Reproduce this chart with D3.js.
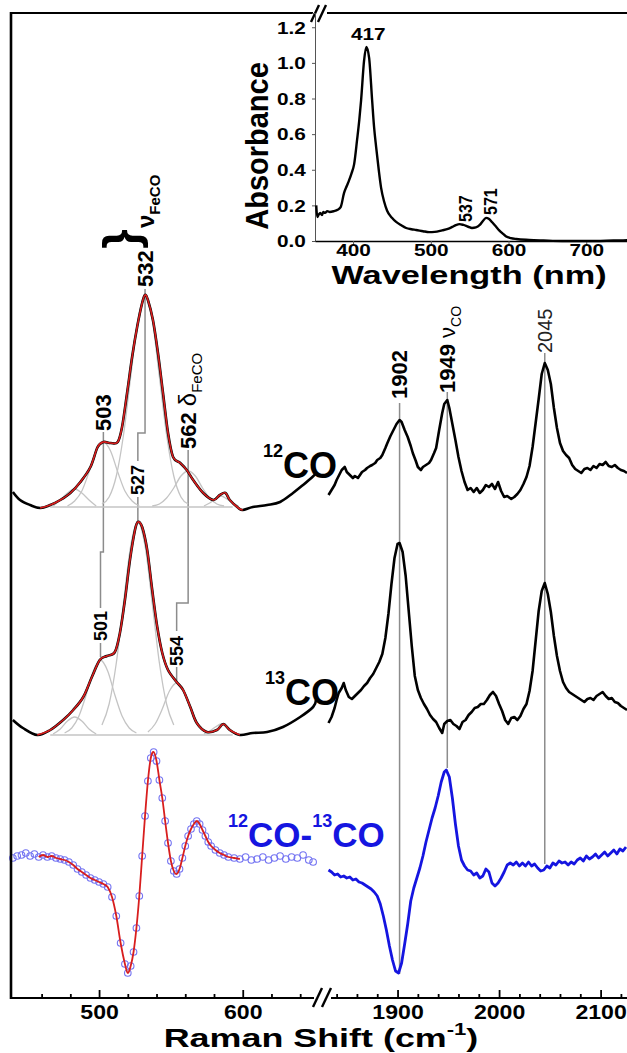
<!DOCTYPE html>
<html>
<head>
<meta charset="utf-8">
<script src="https://cdn.jsdelivr.net/npm/d3@7"></script>
<style>
  body { margin: 0; background: #fff; }
  svg text { font-family: "Liberation Sans", Arial, sans-serif; }
</style>
</head>
<body>
<div id="chart"></div>
<script>

// ---- data (wavenumber cm-1, intensity a.u. incl. stacking offset) ----
var co12Low = [[440,504],[445,496],[452,491],[459,488],[466,491],[473,496],[480,503],[487,514],[494,529],[499,549],[503,554],[508,553],[513,554],[516,569],[519.5,603],[523,639],[526.5,669],[530,693],[532,701],[534,696],[537.5,676],[541,643],[544.5,603],[548,563],[551.5,539],[556.5,533],[561,526],[565.5,516],[572.5,503],[579.5,496],[584,501],[588,503],[591,496],[597,488],[600,486],[607,489],[617,491],[626,494],[635,503],[642,511],[648.5,519],[651,523]];
var co13Low = [[440,276],[447,268],[457,261],[466,266],[475,276],[482,286],[489,299],[495,319],[500.5,336],[505.5,340],[511,344],[514.5,363],[518,396],[521.5,436],[525,466],[527,474],[530,469],[533.5,446],[537,406],[540.5,369],[544,343],[548,326],[554,314],[558.5,306],[563.5,289],[568,273],[575,264],[582,266],[586.5,272],[591,266],[598,261],[607,263],[617,264],[628,269],[640,279],[649,289],[651,296]];
var diffLow = [[440,138],[443,140],[446,141],[449,143],[452,140],[455,142],[458,139],[461,141],[464,139],[467,140],[470,138],[473,137],[476,136],[479,134],[482,131],[485,127],[488,124],[491,121],[494,118],[497,116],[500,114],[503,112],[506,109],[509,99],[512,80],[515,53],[518,32],[520,23],[522,30],[524,44],[526,68],[528,100],[530,140],[532,180],[534,215],[536,238],[538,244],[540,235],[542,216],[544,198],[546,175],[548,153],[550,135],[552,125],[554,122],[556,127],[558,138],[560,150],[562,160],[564,167],[566,172],[568,175],[570,172],[572,166],[574,160],[576,154],[578,150],[581,146],[584,143],[587,141],[590,139],[594,138],[598,137],[602,139],[606,136],[610,137],[614,139],[618,136],[622,138],[626,140],[630,137],[634,139],[638,138],[642,141],[646,136],[649,134]];

// fitted component bands (12CO and 13CO)
var comp12 = [
  [[468,490],[473,496],[478,503],[483,507],[488,503],[493,496],[498,490]],
  [[478,490],[483,495],[488,505],[493,524],[498,545],[503,554],[508,545],[513,524],[518,505],[523,495],[528,490]],
  [[502,492],[507,499],[512,520],[517,561],[522,619],[527,676],[532,700],[537,676],[542,619],[547,561],[552,520],[557,499],[562,492]],
  [[537,490],[542,492],[547,498],[552,508],[557,520],[562,525],[567,520],[572,508],[577,498],[582,492],[587,490]],
  [[573,490],[577,493],[581,497],[585,500],[589,497],[593,493],[597,490]]
];
var comp13 = [
  [[468,262],[473,267],[478,275],[483,279],[488,275],[493,267],[498,262]],
  [[476,263],[481,268],[486,280],[491,301],[496,325],[501,336],[506,325],[511,301],[516,280],[521,268],[526,263]],
  [[502,271],[507,292],[512,333],[517,393],[522,450],[527,474],[532,450],[537,393],[542,333],[547,292],[552,271]],
  [[534,264],[539,272],[544,287],[549,305],[554,313],[559,305],[564,287],[569,272],[574,264]],
  [[573,262],[577,265],[581,269],[585,272],[589,269],[593,265],[597,262]]
];
var base12 = [[466,489],[593,489]];
var base13 = [[466,261],[593,261]];

var co12High = [[1832,501],[1835,506],[1838,511],[1840,516],[1843,522],[1845,526],[1848,529],[1850,524],[1853,521],[1856,518],[1858,520],[1861,518],[1865,524],[1868,526],[1870,528],[1873,530],[1875,531],[1878,533],[1880,536],[1883,538],[1885,541],[1888,548],[1890,553],[1893,560],[1896,566],[1899,572],[1902,576],[1904,574],[1907,566],[1910,559],[1913,550],[1915,543],[1918,535],[1920,529],[1923,526],[1925,529],[1928,531],[1931,533],[1933,536],[1936,543],[1938,548],[1941,566],[1944,583],[1946,592],[1949,596],[1951,588],[1954,572],[1957,556],[1960,539],[1963,525],[1966,514],[1969,506],[1972,508],[1975,504],[1978,508],[1981,503],[1984,506],[1987,511],[1990,509],[1993,512],[1996,507],[1999,514],[2002,505],[2005,499],[2008,500],[2012,497],[2015,499],[2018,502],[2021,506],[2024,512],[2027,519],[2030,530],[2033,549],[2036,573],[2039,597],[2042,622],[2045,633],[2048,626],[2051,612],[2054,588],[2057,568],[2060,553],[2063,545],[2066,541],[2069,538],[2072,531],[2075,527],[2078,525],[2081,523],[2084,527],[2087,528],[2090,526],[2093,530],[2096,528],[2099,532],[2102,531],[2105,534],[2108,530],[2111,529],[2114,531],[2117,528],[2120,526],[2123,525],[2126,523]];
var co13High = [[1832,273],[1835,279],[1838,288],[1840,296],[1842,303],[1845,308],[1847,313],[1849,306],[1852,299],[1855,297],[1858,300],[1861,303],[1864,306],[1867,310],[1870,313],[1873,318],[1876,322],[1879,328],[1882,334],[1885,342],[1888,358],[1891,382],[1894,412],[1897,438],[1900,452],[1902,453],[1905,444],[1908,420],[1911,385],[1914,350],[1917,320],[1920,306],[1923,298],[1926,292],[1929,287],[1932,281],[1935,277],[1938,274],[1941,268],[1944,263],[1946,272],[1949,275],[1952,276],[1955,272],[1958,270],[1961,267],[1964,274],[1967,276],[1970,281],[1973,284],[1976,288],[1979,289],[1982,292],[1985,292],[1988,296],[1991,301],[1994,304],[1997,300],[2000,292],[2003,285],[2006,276],[2009,272],[2012,278],[2015,279],[2018,276],[2021,280],[2024,287],[2027,292],[2030,305],[2033,325],[2036,355],[2039,385],[2042,405],[2045,413],[2048,402],[2051,384],[2054,360],[2057,340],[2060,325],[2063,314],[2066,308],[2069,304],[2072,302],[2075,300],[2078,298],[2081,296],[2084,294],[2087,297],[2090,298],[2093,296],[2096,300],[2099,302],[2102,304],[2105,300],[2108,297],[2111,298],[2114,294],[2117,293],[2120,290],[2123,288],[2126,286]];
var diffHigh = [[1832,126],[1835,124],[1838,121],[1841,122],[1844,119],[1847,120],[1850,118],[1853,119],[1856,116],[1859,117],[1862,114],[1865,113],[1868,111],[1871,109],[1874,107],[1877,104],[1880,100],[1883,92],[1886,80],[1889,66],[1892,50],[1895,36],[1898,25],[1901,23],[1904,33],[1907,52],[1910,72],[1913,95],[1916,108],[1919,118],[1922,128],[1925,140],[1928,154],[1931,166],[1934,178],[1937,188],[1940,200],[1943,214],[1946,224],[1948,226],[1951,219],[1954,198],[1957,172],[1960,150],[1963,136],[1966,130],[1969,126],[1972,125],[1975,121],[1978,123],[1981,118],[1984,120],[1987,127],[1990,124],[1993,113],[1996,110],[1999,113],[2002,118],[2005,124],[2008,131],[2011,133],[2014,131],[2017,134],[2020,130],[2023,133],[2026,130],[2029,134],[2032,130],[2035,132],[2038,128],[2041,125],[2044,126],[2047,130],[2050,128],[2053,133],[2056,131],[2059,135],[2062,133],[2065,134],[2068,131],[2071,134],[2074,132],[2077,136],[2080,138],[2083,135],[2086,140],[2089,137],[2092,139],[2095,142],[2098,138],[2101,141],[2104,144],[2107,140],[2110,143],[2113,146],[2116,142],[2119,147],[2122,145],[2125,149]];

// UV-vis inset (nm, absorbance)
var uvVis = [[352.6,0.20],[353.9,0.135],[356,0.15],[357.7,0.158],[360,0.145],[361.6,0.163],[364,0.158],[366.8,0.168],[370,0.163],[375.5,0.168],[380,0.175],[384,0.19],[388.4,0.27],[392,0.31],[394.8,0.34],[398,0.38],[401.3,0.43],[405.2,0.57],[408,0.68],[410.3,0.79],[414.2,1.015],[417,1.09],[420.6,1.03],[424.5,0.79],[427,0.64],[429.6,0.53],[433,0.40],[436,0.30],[440,0.22],[443.8,0.17],[450,0.13],[455.4,0.107],[462,0.088],[468.2,0.073],[475,0.066],[481.1,0.062],[490,0.055],[497.8,0.05],[505,0.051],[514.6,0.06],[522,0.068],[527.5,0.079],[532,0.089],[537,0.095],[542,0.09],[548,0.08],[553,0.073],[558,0.076],[563,0.09],[567,0.112],[571,0.13],[575,0.124],[579,0.105],[584,0.08],[588,0.06],[593,0.04],[597,0.025],[603,0.016],[610,0.011],[626.6,0.006],[645,0.003],[669,0.0],[690,0.0],[712.9,0.0],[735,0.003],[755,0.004]];

var lowMajor = [500, 600];
var lowMinor = [460, 480, 520, 540, 560, 580, 620, 640];
var highMajor = [1900, 2000, 2100];
var highMinor = [1840, 1860, 1880, 1920, 1940, 1960, 1980, 2020, 2040, 2060, 2080, 2120];
var uvTicksX = [400, 500, 600, 700];
var uvTicksY = [0, 0.2, 0.4, 0.6, 0.8, 1.0, 1.2];
var uvPeaks = [417, 537, 571];
var peaks12 = [503, 532, 562];
var peaks13 = [501, 527, 554];
var coPeaks = [1902, 1949, 2045];

// ---- setup ----
var W = 627, H = 1053;
var svg = d3.select("#chart").append("svg")
    .attr("width", W).attr("height", H);

var xLow = d3.scaleLinear().domain([438.7, 651]).range([11, 316]);
var xHigh = d3.scaleLinear().domain([1831.5, 2126]).range([328, 627]);
var y = d3.scaleLinear().domain([0, 983]).range([996, 13]);
var xIn = d3.scaleLinear().domain([351, 755]).range([315, 629]);
var yIn = d3.scaleLinear().domain([0, 1.28]).range([241, 13]);

var RED = "#d81e1e", BLUE = "#1515e0", GRAY = "#8c8c8c", LGRAY = "#c4c4c4";

function txt(g, x, yy, parts, o) {
    o = o || {};
    var t = g.append("text")
        .attr("transform", "translate(" + x + "," + yy + ") scale(" + (o.sx || 1) + ",1)" + (o.rot ? " rotate(-90)" : ""))
        .attr("text-anchor", o.anchor || "start")
        .style("fill", o.fill || "#000");
    var shift = 0;
    parts.forEach(function (p) {
        var s = t.append("tspan").text(p[0])
            .attr("font-size", p[1])
            .attr("font-weight", p[2] || "bold");
        var off = p[3] || 0;
        if (off - shift) s.attr("dy", off - shift);
        shift = off;
    });
    return t;
}
// rotated label, centred on cx, text starting at yBottom going up
function rlabel(g, cx, yBottom, parts, sx, fill) {
    sx = sx || 1;
    return txt(g, cx + 0.36 * parts[0][1] * sx, yBottom, parts, {rot: true, sx: sx, fill: fill});
}

var lineLow = d3.line().x(function (d) { return xLow(d[0]); }).y(function (d) { return y(d[1]); });
var lineHigh = d3.line().x(function (d) { return xHigh(d[0]); }).y(function (d) { return y(d[1]); });

// ---- connectors for fitted peaks ----
var conn = svg.append("g").attr("fill", "none").attr("stroke", GRAY).attr("stroke-width", 1.5);
// [start of 12CO segment, step y, 13CO label top, 13CO label bottom, 13CO peak]
var connY = [[432, 552, 608, 643, 657], [289, 433, 461, 497, 522], [450, 603, 631, 667, 683]];
peaks12.forEach(function (p, i) {
    var a = xLow(p), b = xLow(peaks13[i]), c = connY[i];
    conn.append("path").attr("d", "M" + a + "," + c[0] + "V" + c[1] + "H" + b + "V" + c[2]);
    conn.append("path").attr("d", "M" + b + "," + c[3] + "V" + c[4]);
});
// CO stretch guide lines
var coTop = [403, 392, 353], coBot = [974, 768, 864];
coPeaks.forEach(function (p, i) {
    conn.append("line").attr("x1", xHigh(p)).attr("x2", xHigh(p)).attr("y1", coTop[i]).attr("y2", coBot[i]);
});

// ---- components ----
var compLine = d3.line().x(function (d) { return xLow(d[0]); }).y(function (d) { return y(d[1]); }).curve(d3.curveCardinal);
var gc = svg.append("g").attr("fill", "none").attr("stroke", LGRAY).attr("stroke-width", 1.3);
comp12.concat(comp13).forEach(function (c) { gc.append("path").attr("d", compLine(c)); });
gc.append("path").attr("d", lineLow(base12));
gc.append("path").attr("d", lineLow(base13));

// ---- traces ----
function inFit(d) { return d[0] >= 456 && d[0] <= 600; }
var smooth = d3.line().x(function (d) { return xLow(d[0]); }).y(function (d) { return y(d[1]); }).curve(d3.curveCardinal);
[co12Low, co13Low].forEach(function (s) {
    svg.append("path").attr("d", smooth(s)).attr("fill", "none").attr("stroke", "#000").attr("stroke-width", 2.6);
    svg.append("path").attr("d", smooth(s.filter(inFit))).attr("fill", "none").attr("stroke", RED).attr("stroke-width", 1.6);
});
[co12High, co13High].forEach(function (s) {
    svg.append("path").attr("d", lineHigh(s)).attr("fill", "none").attr("stroke", "#000").attr("stroke-width", 2.6).attr("stroke-linejoin", "round");
});
svg.append("path").attr("d", lineHigh(diffHigh)).attr("fill", "none").attr("stroke", BLUE).attr("stroke-width", 2.8).attr("stroke-linejoin", "round");

svg.append("g").selectAll("circle").data(diffLow).enter().append("circle")
    .attr("cx", function (d) { return xLow(d[0]); })
    .attr("cy", function (d) { return y(d[1]); })
    .attr("r", 3.3).attr("fill", "none").attr("stroke", "#7474f2").attr("stroke-width", 1.1);
svg.append("path").attr("d", smooth(diffLow.filter(function (d) { return d[0] >= 457 && d[0] <= 598; })))
    .attr("fill", "none").attr("stroke", RED).attr("stroke-width", 1.8);

// ---- frame and axes ----
var frame = svg.append("g").attr("stroke", "#000").attr("fill", "none");
frame.append("line").attr("x1", 11).attr("x2", 11).attr("y1", 12).attr("y2", 999).attr("stroke-width", 2.6);
frame.append("line").attr("x1", 10).attr("x2", 313).attr("y1", 13).attr("y2", 13).attr("stroke-width", 2.2);
frame.append("line").attr("x1", 327).attr("x2", 627).attr("y1", 13).attr("y2", 13).attr("stroke-width", 2.2);
frame.append("line").attr("x1", 10).attr("x2", 314).attr("y1", 998).attr("y2", 998).attr("stroke-width", 2.2);
frame.append("line").attr("x1", 331).attr("x2", 627).attr("y1", 998).attr("y2", 998).attr("stroke-width", 2.2);
[[311, 5, 319, 22], [318, 5, 326, 22]].forEach(function (s) {
    frame.append("line").attr("x1", s[0]).attr("y1", s[3]).attr("x2", s[2]).attr("y2", s[1]).attr("stroke-width", 2.4);
});
[[313, 1007, 322, 988], [322, 1007, 331, 988]].forEach(function (s) {
    frame.append("line").attr("x1", s[0]).attr("y1", s[1]).attr("x2", s[2]).attr("y2", s[3]).attr("stroke-width", 2.4);
});

function styleAxis(g) {
    g.select(".domain").remove();
    g.selectAll("line").attr("stroke", "#000").attr("stroke-width", 1.8);
}
var ax = svg.append("g").attr("transform", "translate(0,998)");
ax.append("g").call(d3.axisBottom(xLow).tickValues(lowMinor).tickSize(-4).tickFormat("")).call(styleAxis);
ax.append("g").call(d3.axisBottom(xHigh).tickValues(highMinor).tickSize(-4).tickFormat("")).call(styleAxis);
[[xLow, lowMajor], [xHigh, highMajor]].forEach(function (a) {
    var g = ax.append("g").call(d3.axisBottom(a[0]).tickValues(a[1]).tickSize(-8).tickPadding(6).tickFormat(d3.format("d"))).call(styleAxis);
    g.selectAll("text").attr("font-size", 21).attr("font-weight", "bold").attr("fill", "#000")
        .attr("font-family", "Liberation Sans, Arial, sans-serif").attr("transform", "scale(1.1,1)");
});
txt(svg, 321, 1047, [["Raman Shift (cm", 26], ["-1", 16, "bold", -12], [")", 26, "bold", 0]], {anchor: "middle", sx: 1.38});

// ---- inset UV-vis ----
var gi = svg.append("g");
var axL = gi.append("g").attr("transform", "translate(315,0)")
    .call(d3.axisLeft(yIn).tickValues(uvTicksY).tickSize(3).tickPadding(4).tickFormat(d3.format(".1f")));
axL.select(".domain").attr("stroke", "#555").attr("stroke-width", 1);
axL.selectAll("line").attr("stroke", "#555");
axL.selectAll("text").attr("font-size", 16).attr("font-weight", "bold").attr("fill", "#000")
    .attr("font-family", "Liberation Sans, Arial, sans-serif").attr("transform", "scale(1.3,1)").attr("dy", "0.36em");
var axB = gi.append("g").attr("transform", "translate(0,241)")
    .call(d3.axisBottom(xIn).tickValues(uvTicksX).tickSize(3).tickPadding(1).tickSizeOuter(0).tickFormat(d3.format("d")));
axB.select(".domain").attr("stroke", "#000").attr("stroke-width", 1.6);
axB.selectAll("line").attr("stroke", "#555");
axB.selectAll("text").attr("font-size", 16).attr("font-weight", "bold").attr("fill", "#000")
    .attr("font-family", "Liberation Sans, Arial, sans-serif").attr("transform", "scale(1.3,1)");
gi.append("path").datum(uvVis)
    .attr("d", d3.line().x(function (d) { return xIn(d[0]); }).y(function (d) { return yIn(d[1]); }).curve(d3.curveMonotoneX))
    .attr("fill", "none").attr("stroke", "#000").attr("stroke-width", 2.4);
txt(gi, 268, 146, [["Absorbance", 29]], {rot: true, anchor: "middle", sx: 1.1});
txt(gi, 469, 284, [["Wavelength (nm)", 26]], {anchor: "middle", sx: 1.32});
txt(gi, xIn(uvPeaks[0]) + 2, 40, [[String(uvPeaks[0]), 16]], {anchor: "middle", sx: 1.3});
rlabel(gi, xIn(uvPeaks[1]) + 6, 222, [[String(uvPeaks[1]), 16]], 1.15);
rlabel(gi, xIn(uvPeaks[2]) + 4, 215, [[String(uvPeaks[2]), 16]], 1.15);

// ---- peak labels ----
var gl = svg.append("g");
rlabel(gl, xLow(peaks12[1]), 287, [[String(peaks12[1]), 22]]);
txt(gl, 138, 239, [["}", 50]], {rot: true, anchor: "middle"});
rlabel(gl, xLow(peaks12[1]), 228, [["\u03bd", 24], ["FeCO", 15, "bold", 6]]);
rlabel(gl, xLow(peaks12[0]), 431, [[String(peaks12[0]), 22]]);
rlabel(gl, xLow(peaks12[2]), 449, [[String(peaks12[2]) + " ", 22], ["\u03b4", 24, "normal"], ["FeCO", 15, "normal", 6]]);
rlabel(gl, xLow(peaks13[1]), 495, [[String(peaks13[1]), 18]]);
rlabel(gl, xLow(peaks13[0]), 641, [[String(peaks13[0]), 18]]);
rlabel(gl, xLow(peaks13[2]), 666, [[String(peaks13[2]), 18]]);
rlabel(gl, xHigh(coPeaks[0]), 399, [[String(coPeaks[0]), 22]]);
rlabel(gl, xHigh(coPeaks[1]), 393, [[String(coPeaks[1]) + " ", 22], ["\u03bd", 22, "normal"], ["CO", 14, "normal", 6]]);
rlabel(gl, xHigh(coPeaks[2]), 353, [[String(coPeaks[2]), 20, "normal"]], 1, "#222");

// ---- trace names ----
txt(gl, 263, 478, [["12", 18, "bold", -21], ["CO", 36, "bold", 0]]);
txt(gl, 265, 705, [["13", 18, "bold", -21], ["CO", 36, "bold", 0]]);
txt(gl, 228, 847, [["12", 18, "bold", -20], ["CO-", 35, "bold", 0], ["13", 18, "bold", -20], ["CO", 35, "bold", 0]], {fill: BLUE});

</script>
</body>
</html>
